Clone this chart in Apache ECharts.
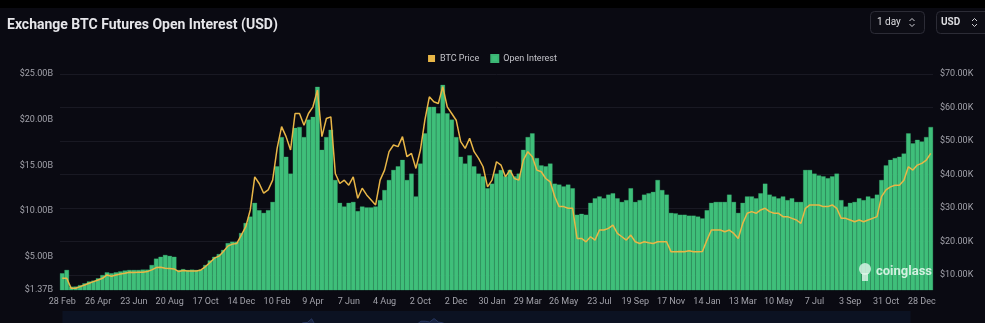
<!DOCTYPE html>
<html><head><meta charset="utf-8">
<script src="https://cdn.jsdelivr.net/npm/echarts@6/dist/echarts.min.js"></script>
<style>html,body{margin:0;padding:0;background:#0a0a12;}#c{width:985px;height:323px;}</style>
</head><body><div id="c"></div>
<script>
// ---- data ----
const tickLabels = ['28 Feb','26 Apr','23 Jun','20 Aug','17 Oct','14 Dec','10 Feb','9 Apr','7 Jun','4 Aug','2 Oct','2 Dec','30 Jan','29 Mar','26 May','23 Jul','19 Sep','17 Nov','14 Jan','13 Mar','10 May','7 Jul','3 Sep','31 Oct','28 Dec'];
const samplesPerTick = 8;
const tailSamples = 3;
// Open interest, billions USD
const openInterestB = [
3.2,3.56,1.73,1.75,1.9,2.1,2.3,2.4,
2.65,3.0,3.3,3.2,3.3,3.4,3.5,3.56,
3.56,3.56,3.6,3.6,4.1,4.8,5.0,5.2,
5.1,5.0,3.56,3.65,3.56,3.6,3.56,3.6,
4.1,4.6,5.0,5.3,5.75,6.5,6.65,6.65,
7.6,8.7,9.4,10.9,10.1,9.8,10.1,11.0,
14.9,18.1,15.95,14.1,19.1,19.2,18.1,20.0,
20.3,23.6,16.7,18.1,18.9,13.4,10.9,10.5,
10.9,11.0,10.0,10.5,10.4,10.4,10.5,11.2,
12.3,13.4,14.5,14.9,15.6,13.4,14.1,11.6,
15.2,18.5,21.4,21.4,20.7,23.8,20.7,20.0,
18.1,15.95,15.2,16.1,14.9,14.1,13.8,12.5,
13.0,14.1,14.5,13.8,14.5,13.8,14.1,16.7,
18.1,18.5,15.8,15.0,14.9,15.2,13.0,12.9,
12.7,12.9,12.5,9.6,9.7,9.6,10.9,11.4,
11.6,11.4,11.8,11.95,11.4,11.0,11.2,12.5,
11.0,11.2,11.8,11.95,12.1,13.4,12.3,11.8,
9.8,9.75,9.6,9.6,9.5,9.5,9.4,9.2,
10.1,10.9,11.0,11.0,11.0,11.8,11.0,9.8,
10.9,11.6,11.6,11.4,11.95,13.0,11.8,11.6,
11.4,11.6,11.2,11.4,11.0,11.0,14.5,14.5,
14.1,13.9,13.8,13.6,13.8,14.1,11.2,10.5,
10.9,11.0,11.4,11.2,11.6,11.4,11.8,13.4,
15.0,15.6,15.8,15.95,16.3,18.5,17.4,17.8,
17.6,18.1,19.2
];
// BTC price, thousands USD
const btcPriceK = [
9.0,9.0,6.0,6.0,6.5,7.0,7.5,8.0,
8.5,9.0,10.0,9.6,10.0,10.3,10.5,10.8,
10.7,10.8,10.8,11.0,11.5,12.2,12.3,12.0,
11.9,11.8,11.0,11.3,11.2,11.2,11.2,11.5,
12.5,13.7,15.0,15.6,17.0,18.6,19.2,19.4,
21.9,24.4,29.4,39.3,37.3,34.4,35.4,38.3,
47.8,54.3,51.3,47.3,58.2,58.2,54.7,58.2,
60.2,65.2,51.3,56.7,57.2,40.3,37.3,38.3,
36.8,39.3,32.9,35.9,33.9,32.4,30.9,38.3,
41.3,46.8,48.8,48.3,51.3,45.3,46.3,41.8,
47.3,56.2,63.2,61.7,61.2,66.2,60.2,58.2,
56.2,49.8,47.8,50.8,46.8,44.8,42.3,36.3,
38.3,43.8,42.8,39.3,41.3,38.8,38.3,44.3,
46.8,45.3,41.3,40.8,38.8,37.8,33.4,30.4,
30.4,29.9,29.9,20.9,20.9,19.9,21.4,20.4,
23.4,23.4,23.9,24.9,22.4,21.4,20.4,21.9,
19.9,19.4,19.9,19.6,19.4,19.9,19.9,19.9,
16.9,16.9,17.0,16.9,17.2,16.9,16.9,17.0,
20.4,23.4,23.4,23.4,22.9,23.4,22.4,20.9,
25.4,28.4,28.9,28.4,29.4,29.9,28.9,28.4,
28.4,27.4,27.4,26.9,26.4,25.4,29.9,30.9,
30.9,30.9,30.4,30.4,30.9,29.9,26.9,26.9,
26.4,25.9,26.4,25.9,26.4,26.9,27.4,33.4,
35.4,36.3,36.8,36.8,38.3,42.3,41.3,42.8,
43.3,44.3,46.3
];
const oiAxisTicks = [1.37, 5, 10, 15, 20, 25];
const priceAxisTicks = [10, 20, 30, 40, 50, 60, 70];

// ---- build ----
const N = (tickLabels.length - 1) * samplesPerTick + tailSamples;
const categories = [];
for (let i = 0; i < N; i++) {
  categories.push(i % samplesPerTick === 0 && i / samplesPerTick < tickLabels.length ? tickLabels[i / samplesPerTick] : '');
}
const FONT = 'Roboto, "Noto Sans", sans-serif';
const labelColor = '#a2a2aa';

function chevrons(cx, cy) {
  return [
    {type:'polyline', z:102, shape:{points:[[cx-2.5,cy-1.5],[cx,cy-4],[cx+2.5,cy-1.5]]}, style:{stroke:'#cfcfd4', lineWidth:1, fill:null}},
    {type:'polyline', z:102, shape:{points:[[cx-2.5,cy+1.5],[cx,cy+4],[cx+2.5,cy+1.5]]}, style:{stroke:'#cfcfd4', lineWidth:1, fill:null}}
  ];
}

const chart = echarts.init(document.getElementById('c'), null, {renderer:'canvas'});
chart.setOption({
  backgroundColor: '#0a0a12',
  animation: false,
  title: {
    text: 'Exchange BTC Futures Open Interest (USD)', left: 2, top: 13,
    textStyle: {color:'#e6e6ea', fontSize: 14, fontWeight: 'bold', fontFamily: FONT}
  },
  legend: {
    top: 49, left: 'center', itemWidth: 7, itemHeight: 7, itemGap: 11, icon: 'rect',
    data: ['BTC Price', 'Open Interest'],
    textStyle: {color:'#c4c4ca', fontSize: 9, fontFamily: FONT}
  },
  grid: {left: 60, right: 52, top: 74, bottom: 33},
  xAxis: {
    type: 'category', data: categories, boundaryGap: true,
    axisLine: {show:false}, axisTick: {show:false}, splitLine: {show:false},
    axisLabel: {interval: samplesPerTick - 1, color: labelColor, fontSize: 9, margin: 7, fontFamily: FONT}
  },
  yAxis: [
    {
      type: 'value', position: 'left', min: 1.37, max: 25,
      axisLine: {show:false}, axisTick: {show:false, customValues: oiAxisTicks}, splitLine: {show:false},
      axisLabel: {customValues: oiAxisTicks, formatter: v => '$' + v.toFixed(2) + 'B', color: labelColor, fontSize: 9, margin: 7, fontFamily: FONT}
    },
    {
      type: 'value', position: 'right', min: 5.5, max: 70,
      axisLine: {show:false}, axisTick: {show:false, customValues: priceAxisTicks},
      splitLine: {show:true, lineStyle: {color: '#191923', width: 1}},
      axisLabel: {customValues: priceAxisTicks, formatter: v => '$' + v.toFixed(2) + 'K', color: labelColor, fontSize: 9, margin: 7, fontFamily: FONT}
    }
  ],
  dataZoom: [{
    type: 'slider', xAxisIndex: 0, left: 60, right: 77, top: 311, height: 40, start: 0, end: 100,
    backgroundColor: '#0c1222', borderColor: 'transparent', fillerColor: 'rgba(0,0,0,0)',
    dataBackground: {lineStyle: {color:'#34477a', width: 0.6}, areaStyle: {color:'#1f2c50', opacity: 0.7}},
    selectedDataBackground: {lineStyle: {color:'#34477a', width: 0.6}, areaStyle: {color:'#1f2c50', opacity: 0.7}},
    showDetail: false, handleSize: 0, handleStyle: {opacity: 0}, moveHandleSize: 0, brushSelect: false,
    textStyle: {color: 'transparent'}
  }],
  series: [
    {
      name: 'Open Interest', type: 'bar', data: openInterestB, yAxisIndex: 0,
      barCategoryGap: '0%', itemStyle: {color: '#3fbf7a', borderColor: '#3bb574', borderWidth: 0.3}, z: 1
    },
    {
      name: 'BTC Price', type: 'line', data: btcPriceK, yAxisIndex: 1, symbol: 'none', showSymbol: false,
      lineStyle: {color: '#e8b647', width: 1.5}, itemStyle: {color: '#e8b647'}, z: 3
    }
  ],
  graphic: [
    {type:'rect', z:100, shape:{x:0,y:0,width:985,height:8}, style:{fill:'#000'}},
    {type:'rect', z:100, shape:{x:870.5,y:11.5,width:54,height:22,r:4}, style:{fill:'#0d0d15', stroke:'#2c2c36', lineWidth:1}},
    {type:'text', z:101, x:877, y:22.5, style:{text:'1 day', fill:'#dcdce0', font:'10px ' + FONT, textVerticalAlign:'middle'}},
    ...chevrons(912, 22.5),
    {type:'rect', z:100, shape:{x:936.5,y:11.5,width:54,height:22,r:4}, style:{fill:'#0d0d15', stroke:'#2c2c36', lineWidth:1}},
    {type:'text', z:101, x:941, y:22.5, style:{text:'USD', fill:'#dcdce0', font:'bold 10px ' + FONT, textVerticalAlign:'middle'}},
    ...chevrons(974.5, 22.5),
    {type:'circle', z:100, shape:{cx:865, cy:269, r:6}, style:{fill:'rgba(225,245,235,0.8)'}},
    {type:'rect', z:100, shape:{x:862, y:273, width:6, height:8}, style:{fill:'rgba(225,245,235,0.8)'}},
    {type:'text', z:100, x:876, y:272, style:{text:'coinglass', fill:'rgba(230,248,238,0.88)', font:'bold 13px ' + FONT, textVerticalAlign:'middle'}}
  ]
});
</script>
</body></html>
